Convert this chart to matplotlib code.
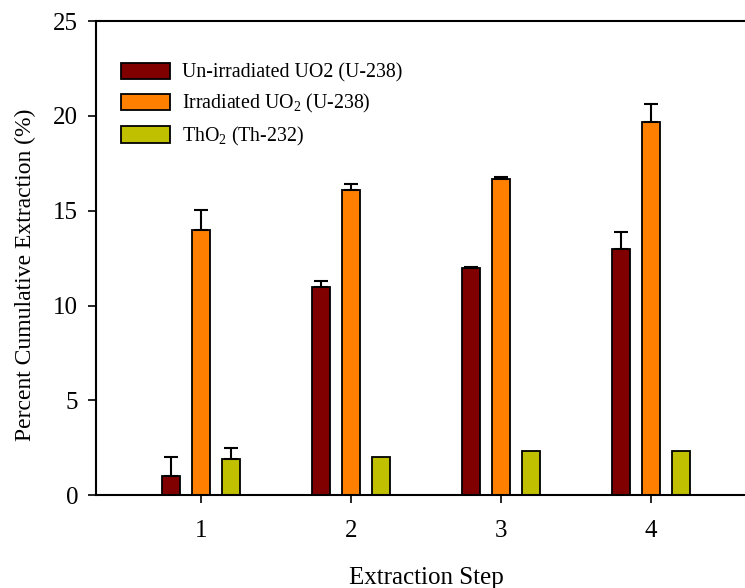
import matplotlib
matplotlib.use("Agg")
import matplotlib.pyplot as plt
import numpy as np

plt.rcParams['font.family'] = ['Liberation Serif', 'DejaVu Serif']
plt.rcParams['mathtext.fontset'] = 'custom'
plt.rcParams['mathtext.rm'] = 'Liberation Serif'

steps = [1, 2, 3, 4]
series_names = ["Un-irradiated UO2 (U-238)",
                r"Irradiated UO$_\mathregular{2}$ (U-238)",
                r"ThO$_\mathregular{2}$ (Th-232)"]
unirradiated = [1.0, 11.0, 12.0, 13.0]
unirradiated_err = [1.0, 0.3, 0.05, 0.9]
irradiated = [14.0, 16.1, 16.7, 19.7]
irradiated_err = [1.05, 0.3, 0.08, 0.95]
tho2 = [1.9, 2.0, 2.3, 2.35]
tho2_err = [0.6, 0.0, 0.0, 0.0]

colors = ["#800000", "#FF8000", "#C0C000"]
values = [unirradiated, irradiated, tho2]
errors = [unirradiated_err, irradiated_err, tho2_err]

fig = plt.figure(figsize=(7.45, 5.88), dpi=100)
ax = fig.add_axes([0.129, 0.158, 0.886, 0.806])

x = np.array(steps, dtype=float)
width = 0.123
offsets = [-0.2, 0.0, 0.2]
for vals, errs, col, name, off in zip(values, errors, colors, series_names, offsets):
    ax.bar(x + off, vals, width, color=col, edgecolor='black', linewidth=1.3,
           label=name, zorder=2)
    e = np.array(errs)
    mask = e > 0
    ax.errorbar((x + off)[mask], np.array(vals)[mask],
                yerr=[np.zeros(mask.sum()), e[mask]], fmt='none',
                ecolor='black', elinewidth=1.5, capsize=5.2, capthick=1.5, zorder=3)

ax.set_xlim(0.3, 4.7)
ax.set_ylim(0, 25)
ax.set_xticks(steps)
ax.set_yticks([0, 5, 10, 15, 20, 25])
ax.tick_params(axis='both', direction='out', length=6, width=1.2, labelsize=18)
ax.tick_params(axis='x', pad=12)
ax.tick_params(axis='y', pad=7)
ax.spines['right'].set_visible(False)
for s in ['left', 'top', 'bottom']:
    ax.spines[s].set_linewidth(1.5)

ax.set_xlabel("Extraction Step", fontsize=18, va='top')
ax.xaxis.set_label_coords(0.5, -0.151)
ax.set_ylabel("Percent Cumulative Extraction (%)", fontsize=17, va='center')
ax.yaxis.set_label_coords(-0.107, 0.465)

leg = ax.legend(loc='upper left', bbox_to_anchor=(0.01, 0.95), frameon=False,
                fontsize=14.3, handlelength=2.5, handleheight=0.9,
                labelspacing=0.48, handletextpad=0.6)

fig.savefig("out.png", dpi=100)
